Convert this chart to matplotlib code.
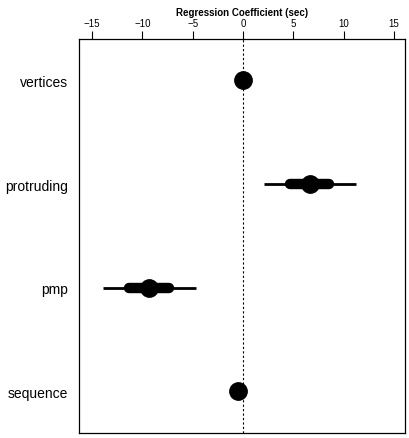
import numpy as np
import matplotlib
matplotlib.use('Agg')
import matplotlib.pyplot as plt

plt.rcParams['font.family'] = ['Liberation Sans', 'DejaVu Sans']

labels = ['vertices', 'protruding', 'pmp', 'sequence']
coef = [0.0, 6.65, -9.3, -0.5]
ci95_lo = [0.0, 2.1, -13.9, -0.5]
ci95_hi = [0.0, 11.2, -4.7, -0.5]
ci50_lo = [0.0, 4.7, -11.3, -0.5]
ci50_hi = [0.0, 8.6, -7.3, -0.5]
xticks = [-15, -10, -5, 0, 5, 10, 15]

fig = plt.figure(figsize=(4.09, 4.39), dpi=100)
ax = fig.add_axes([0.193, 0.0114, 0.797, 0.898])

ypos = np.arange(1, len(labels) + 1)
ax.axvline(0, color='black', linestyle=(0, (2, 2)), linewidth=0.8, zorder=1)
ax.hlines(ypos, ci95_lo, ci95_hi, color='black', linewidth=2.0, zorder=2)
ax.hlines(ypos, ci50_lo, ci50_hi, color='black', linewidth=7.5, capstyle='round', zorder=3)
ax.plot(coef, ypos, 'o', color='black', markersize=12.5, zorder=4)

ax.set_xlim(-16.3, 16.1)
ax.set_ylim(4.4, 0.6)
ax.set_yticks(ypos)
ax.set_yticklabels(labels, fontsize=10)
ax.tick_params(axis='y', length=0, pad=8)
ax.xaxis.tick_top()
ax.set_xticks(xticks)
ax.set_xticklabels([str(t).replace('-', '\u2212') for t in xticks], fontsize=7)
ax.tick_params(axis='x', length=6, width=0.8, pad=2)
ax.xaxis.set_label_position('top')
ax.set_xlabel('Regression Coefficient (sec)', fontsize=7, fontweight='bold', labelpad=2)
for s in ax.spines.values():
    s.set_linewidth(0.9)

fig.savefig('out.png', dpi=100)
